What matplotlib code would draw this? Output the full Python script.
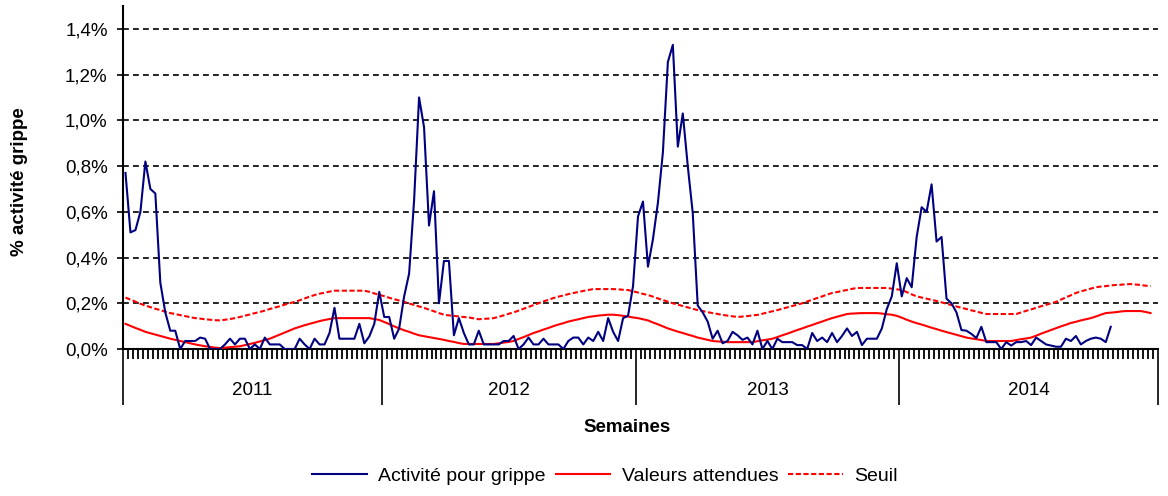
import matplotlib
matplotlib.use("Agg")
import matplotlib.pyplot as plt
import numpy as np

plt.rcParams['font.family'] = ['Liberation Sans', 'DejaVu Sans']

# donnees hebdomadaires (% activite grippe)
activite = [
    0.77, 0.51, 0.52, 0.60, 0.82, 0.70, 0.68, 0.29, 0.16, 0.08,
    0.08, 0.00, 0.035, 0.035, 0.035, 0.05, 0.045, 0.00, 0.00, 0.00,
    0.02, 0.045, 0.02, 0.045, 0.045, 0.00, 0.02, 0.00, 0.05, 0.02,
    0.02, 0.02, 0.00, 0.00, 0.00, 0.045, 0.02, 0.00, 0.045, 0.02,
    0.02, 0.07, 0.18, 0.045, 0.045, 0.045, 0.045, 0.11, 0.025, 0.055,
    0.11, 0.25, 0.14, 0.14, 0.045, 0.09, 0.23, 0.33, 0.65, 1.10,
    0.97, 0.54, 0.69, 0.20, 0.385, 0.385, 0.06, 0.135, 0.07, 0.02,
    0.02, 0.08, 0.02, 0.02, 0.02, 0.02, 0.035, 0.035, 0.057, 0.00,
    0.02, 0.05, 0.02, 0.02, 0.045, 0.02, 0.02, 0.02, 0.00, 0.035,
    0.05, 0.05, 0.02, 0.05, 0.035, 0.075, 0.035, 0.135, 0.075, 0.035,
    0.135, 0.145, 0.275, 0.58, 0.645, 0.36, 0.48, 0.64, 0.86, 1.255,
    1.33, 0.885, 1.03, 0.80, 0.595, 0.19, 0.16, 0.12, 0.045, 0.08,
    0.025, 0.035, 0.075, 0.06, 0.04, 0.05, 0.02, 0.08, 0.00, 0.035,
    0.00, 0.045, 0.03, 0.03, 0.03, 0.017, 0.017, 0.00, 0.07, 0.035,
    0.05, 0.03, 0.07, 0.03, 0.057, 0.09, 0.057, 0.075, 0.017, 0.045,
    0.045, 0.045, 0.09, 0.175, 0.23, 0.375, 0.23, 0.31, 0.27, 0.49,
    0.62, 0.60, 0.72, 0.47, 0.49, 0.22, 0.20, 0.16, 0.083, 0.08,
    0.066, 0.048, 0.097, 0.03, 0.03, 0.03, 0.00, 0.03, 0.015, 0.03,
    0.03, 0.035, 0.017, 0.05, 0.035, 0.02, 0.015, 0.01, 0.01, 0.045,
    0.035, 0.057, 0.02, 0.035, 0.045, 0.05, 0.045, 0.03, 0.097,
]

attendues = [
    0.110, 0.101, 0.092, 0.084, 0.075, 0.069, 0.063, 0.057, 0.051, 0.045,
    0.040, 0.035, 0.030, 0.025, 0.020, 0.016, 0.012, 0.009, 0.006, 0.004,
    0.006, 0.008, 0.010, 0.012, 0.017, 0.022, 0.027, 0.033, 0.039, 0.045,
    0.054, 0.063, 0.072, 0.081, 0.090, 0.097, 0.104, 0.110, 0.116, 0.122,
    0.127, 0.131, 0.135, 0.135, 0.135, 0.135, 0.135, 0.135, 0.135, 0.135,
    0.131, 0.127, 0.118, 0.109, 0.099, 0.090, 0.082, 0.075, 0.067, 0.060,
    0.056, 0.052, 0.048, 0.044, 0.040, 0.035, 0.031, 0.026, 0.022, 0.022,
    0.022, 0.022, 0.022, 0.022, 0.022, 0.025, 0.028, 0.031, 0.035, 0.044,
    0.052, 0.061, 0.070, 0.077, 0.085, 0.092, 0.100, 0.107, 0.113, 0.120,
    0.125, 0.130, 0.135, 0.140, 0.143, 0.146, 0.148, 0.150, 0.150, 0.148,
    0.145, 0.142, 0.138, 0.135, 0.130, 0.125, 0.116, 0.108, 0.099, 0.090,
    0.083, 0.076, 0.070, 0.063, 0.057, 0.050, 0.045, 0.040, 0.035, 0.033,
    0.032, 0.030, 0.030, 0.030, 0.030, 0.030, 0.030, 0.034, 0.038, 0.041,
    0.045, 0.052, 0.060, 0.067, 0.075, 0.083, 0.090, 0.098, 0.105, 0.113,
    0.120, 0.128, 0.135, 0.141, 0.147, 0.153, 0.155, 0.156, 0.157, 0.157,
    0.157, 0.157, 0.155, 0.152, 0.150, 0.145, 0.137, 0.128, 0.120, 0.113,
    0.107, 0.100, 0.093, 0.087, 0.080, 0.074, 0.068, 0.062, 0.056, 0.050,
    0.046, 0.043, 0.039, 0.035, 0.035, 0.035, 0.035, 0.035, 0.035, 0.039,
    0.043, 0.046, 0.050, 0.058, 0.067, 0.075, 0.083, 0.091, 0.099, 0.106,
    0.114, 0.119, 0.125, 0.130, 0.135, 0.142, 0.150, 0.157, 0.159, 0.161,
    0.164, 0.166, 0.166, 0.166, 0.166, 0.162, 0.157,
]

seuil = [
    0.225, 0.216, 0.207, 0.198, 0.190, 0.183, 0.176, 0.170, 0.163, 0.157,
    0.153, 0.148, 0.144, 0.139, 0.135, 0.133, 0.130, 0.128, 0.126, 0.125,
    0.128, 0.131, 0.135, 0.140, 0.146, 0.151, 0.157, 0.162, 0.168, 0.175,
    0.181, 0.187, 0.194, 0.200, 0.206, 0.213, 0.221, 0.229, 0.236, 0.242,
    0.246, 0.251, 0.255, 0.255, 0.255, 0.255, 0.255, 0.255, 0.255, 0.250,
    0.243, 0.237, 0.231, 0.224, 0.218, 0.212, 0.206, 0.199, 0.193, 0.186,
    0.180, 0.172, 0.165, 0.157, 0.150, 0.147, 0.145, 0.142, 0.140, 0.138,
    0.134, 0.130, 0.132, 0.133, 0.135, 0.141, 0.147, 0.154, 0.160, 0.168,
    0.176, 0.184, 0.192, 0.200, 0.208, 0.215, 0.223, 0.229, 0.234, 0.240,
    0.245, 0.249, 0.254, 0.258, 0.262, 0.262, 0.262, 0.262, 0.262, 0.261,
    0.259, 0.258, 0.252, 0.247, 0.241, 0.236, 0.229, 0.221, 0.214, 0.207,
    0.200, 0.194, 0.188, 0.182, 0.176, 0.170, 0.166, 0.161, 0.157, 0.153,
    0.149, 0.146, 0.143, 0.140, 0.142, 0.144, 0.147, 0.149, 0.154, 0.160,
    0.165, 0.170, 0.176, 0.182, 0.188, 0.194, 0.200, 0.208, 0.215, 0.223,
    0.230, 0.238, 0.245, 0.249, 0.254, 0.258, 0.263, 0.267, 0.267, 0.267,
    0.267, 0.267, 0.267, 0.267, 0.264, 0.261, 0.258, 0.249, 0.239, 0.230,
    0.225, 0.220, 0.215, 0.210, 0.204, 0.198, 0.192, 0.186, 0.180, 0.175,
    0.169, 0.164, 0.158, 0.153, 0.153, 0.153, 0.153, 0.153, 0.153, 0.153,
    0.160, 0.167, 0.173, 0.180, 0.187, 0.193, 0.200, 0.206, 0.216, 0.226,
    0.235, 0.245, 0.252, 0.258, 0.264, 0.270, 0.273, 0.275, 0.278, 0.280,
    0.281, 0.283, 0.284, 0.282, 0.280, 0.277, 0.275,
]

annees = ["2011", "2012", "2013", "2014"]
semaines_par_annee = [52, 51, 53, 52]
yticks = [0.0, 0.2, 0.4, 0.6, 0.8, 1.0, 1.2, 1.4]
ytick_labels = ["0,0%", "0,2%", "0,4%", "0,6%", "0,8%", "1,0%", "1,2%", "1,4%"]

n_semaines = sum(semaines_par_annee)
fs = 13.5

fig = plt.figure(figsize=(11.68, 4.96), dpi=100)
ax = fig.add_axes([123/1168, 1-349/496, 1035/1168, 343/496])

ax.plot(np.arange(len(activite)), activite, color='#000080', lw=1.5,
        label="Activité pour grippe", zorder=4)
ax.plot(np.arange(len(attendues)), attendues, color='#ff0000', lw=1.5,
        label="Valeurs attendues", zorder=3)
ax.plot(np.arange(len(seuil)), seuil, color='#ff0000', lw=1.5,
        ls=(0, (2.5, 1.2)), label="Seuil", zorder=3)

ax.set_xlim(-0.5, n_semaines - 0.5)
ax.set_ylim(0, 1.5)

# grille horizontale en pointilles
for v in yticks[1:]:
    ax.axhline(v, color='black', lw=1.2, ls=(0, (3.5, 2.5)), zorder=1)

ax.set_yticks(yticks)
ax.set_yticklabels(ytick_labels, fontsize=fs)
ax.tick_params(axis='y', length=4, width=1.2, pad=7)

# limites des annees (grands traits) et semaines (petits traits)
bornes = np.concatenate([[0], np.cumsum(semaines_par_annee)]) - 0.5
ax.set_xticks(bornes)
ax.set_xticklabels([""] * len(bornes))
ax.set_xticks([b - 0.5 for b in range(1, n_semaines + 1) if (b - 0.5) not in bornes], minor=True)
ax.tick_params(axis='x', which='major', length=40, width=1.2, direction='out')
ax.tick_params(axis='x', which='minor', length=7.5, width=1.3, direction='out')

tr = ax.get_xaxis_transform()
for i, an in enumerate(annees):
    centre = (bornes[i] + bornes[i + 1]) / 2
    ax.text(centre, -0.12, an, transform=tr, ha='center', va='center', fontsize=fs)

for s in ['top', 'right']:
    ax.spines[s].set_visible(False)
for s in ['left', 'bottom']:
    ax.spines[s].set_linewidth(1.5)

fig.text(627/1168, 1-427/496, "Semaines", ha='center', va='center',
         fontsize=fs, fontweight='bold')
fig.text(20/1168, 1-182/496, "% activité grippe", ha='center', va='center',
         rotation=90, fontsize=fs, fontweight='bold')

fig.legend(loc='center', bbox_to_anchor=(605/1168, 1-476/496), ncol=3, frameon=False,
           fontsize=14, handlelength=2.8, columnspacing=0.5, handletextpad=0.6)

fig.savefig("out.png", dpi=100)
